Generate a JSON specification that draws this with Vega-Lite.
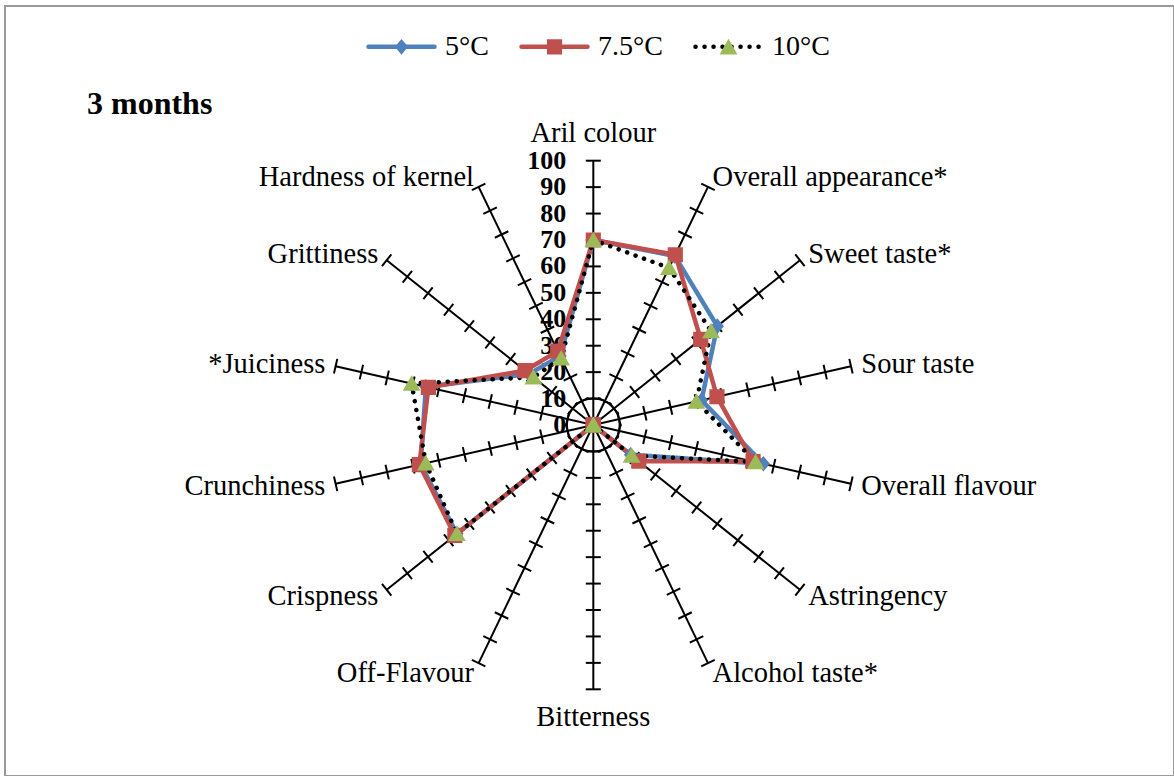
{
  "$schema": "https://vega.github.io/schema/vega-lite/v6.json",
  "width": 1169,
  "height": 770,
  "autosize": "none",
  "padding": {"left": 5, "top": 6, "right": 0, "bottom": 0},
  "background": "white",
  "config": {
    "view": {"stroke": "#999999", "strokeWidth": 2},
    "font": "Liberation Serif"
  },
  "title": {
    "text": "3 months",
    "anchor": "start",
    "frame": "group",
    "orient": "top",
    "offset": 0,
    "dx": 82,
    "dy": 140,
    "baseline": "alphabetic",
    "font": "Liberation Serif",
    "fontSize": 32,
    "fontWeight": "bold",
    "color": "black"
  },
  "datasets": {
    "scores": [
      {"series": "5°C", "idx": 0, "attribute": "Aril colour", "value": 70},
      {"series": "5°C", "idx": 1, "attribute": "Overall appearance*", "value": 71},
      {"series": "5°C", "idx": 2, "attribute": "Sweet taste*", "value": 60},
      {"series": "5°C", "idx": 3, "attribute": "Sour taste", "value": 42},
      {"series": "5°C", "idx": 4, "attribute": "Overall flavour", "value": 66},
      {"series": "5°C", "idx": 5, "attribute": "Astringency", "value": 18},
      {"series": "5°C", "idx": 6, "attribute": "Alcohol taste*", "value": 0},
      {"series": "5°C", "idx": 7, "attribute": "Bitterness", "value": 0},
      {"series": "5°C", "idx": 8, "attribute": "Off-Flavour", "value": 0},
      {"series": "5°C", "idx": 9, "attribute": "Crispness", "value": 66},
      {"series": "5°C", "idx": 10, "attribute": "Crunchiness", "value": 67},
      {"series": "5°C", "idx": 11, "attribute": "*Juiciness", "value": 65},
      {"series": "5°C", "idx": 12, "attribute": "Grittiness", "value": 31},
      {"series": "5°C", "idx": 13, "attribute": "Hardness of kernel", "value": 29},
      {"series": "7.5°C", "idx": 0, "attribute": "Aril colour", "value": 70},
      {"series": "7.5°C", "idx": 1, "attribute": "Overall appearance*", "value": 71.5},
      {"series": "7.5°C", "idx": 2, "attribute": "Sweet taste*", "value": 52},
      {"series": "7.5°C", "idx": 3, "attribute": "Sour taste", "value": 48},
      {"series": "7.5°C", "idx": 4, "attribute": "Overall flavour", "value": 62},
      {"series": "7.5°C", "idx": 5, "attribute": "Astringency", "value": 22},
      {"series": "7.5°C", "idx": 6, "attribute": "Alcohol taste*", "value": 0},
      {"series": "7.5°C", "idx": 7, "attribute": "Bitterness", "value": 0},
      {"series": "7.5°C", "idx": 8, "attribute": "Off-Flavour", "value": 0},
      {"series": "7.5°C", "idx": 9, "attribute": "Crispness", "value": 67},
      {"series": "7.5°C", "idx": 10, "attribute": "Crunchiness", "value": 67.5},
      {"series": "7.5°C", "idx": 11, "attribute": "*Juiciness", "value": 64},
      {"series": "7.5°C", "idx": 12, "attribute": "Grittiness", "value": 33},
      {"series": "7.5°C", "idx": 13, "attribute": "Hardness of kernel", "value": 31},
      {"series": "10°C", "idx": 0, "attribute": "Aril colour", "value": 70},
      {"series": "10°C", "idx": 1, "attribute": "Overall appearance*", "value": 66},
      {"series": "10°C", "idx": 2, "attribute": "Sweet taste*", "value": 57},
      {"series": "10°C", "idx": 3, "attribute": "Sour taste", "value": 40},
      {"series": "10°C", "idx": 4, "attribute": "Overall flavour", "value": 63},
      {"series": "10°C", "idx": 5, "attribute": "Astringency", "value": 18.5},
      {"series": "10°C", "idx": 6, "attribute": "Alcohol taste*", "value": 0},
      {"series": "10°C", "idx": 7, "attribute": "Bitterness", "value": 0},
      {"series": "10°C", "idx": 8, "attribute": "Off-Flavour", "value": 0},
      {"series": "10°C", "idx": 9, "attribute": "Crispness", "value": 66},
      {"series": "10°C", "idx": 10, "attribute": "Crunchiness", "value": 65},
      {"series": "10°C", "idx": 11, "attribute": "*Juiciness", "value": 70.5},
      {"series": "10°C", "idx": 12, "attribute": "Grittiness", "value": 29},
      {"series": "10°C", "idx": 13, "attribute": "Hardness of kernel", "value": 28}
    ],
    "attributes": [
      {"idx": 0, "name": "Aril colour"},
      {"idx": 1, "name": "Overall appearance*"},
      {"idx": 2, "name": "Sweet taste*"},
      {"idx": 3, "name": "Sour taste"},
      {"idx": 4, "name": "Overall flavour"},
      {"idx": 5, "name": "Astringency"},
      {"idx": 6, "name": "Alcohol taste*"},
      {"idx": 7, "name": "Bitterness"},
      {"idx": 8, "name": "Off-Flavour"},
      {"idx": 9, "name": "Crispness"},
      {"idx": 10, "name": "Crunchiness"},
      {"idx": 11, "name": "*Juiciness"},
      {"idx": 12, "name": "Grittiness"},
      {"idx": 13, "name": "Hardness of kernel"}
    ],
    "levels": [
      {"level": 0}, {"level": 10}, {"level": 20}, {"level": 30}, {"level": 40},
      {"level": 50}, {"level": 60}, {"level": 70}, {"level": 80}, {"level": 90},
      {"level": 100}
    ]
  },
  "encoding": {
    "x": {"field": "px", "type": "quantitative", "scale": {"domain": [-222.59, 219.71], "nice": false, "zero": false}, "axis": null},
    "y": {"field": "py", "type": "quantitative", "scale": {"domain": [-132.8, 158.53], "nice": false, "zero": false}, "axis": null}
  },
  "layer": [
    {
      "data": {"name": "levels"},
      "transform": [
        {"filter": "datum.level == 0"},
        {"calculate": "0", "as": "px"},
        {"calculate": "0", "as": "py"}
      ],
      "mark": {"type": "point", "shape": "circle", "size": 2788, "filled": false, "stroke": "black", "strokeWidth": 2, "opacity": 1}
    },
    {
      "data": {"name": "attributes"},
      "transform": [
        {"calculate": "datum.idx * 2 * PI / 14", "as": "th"},
        {"calculate": "0", "as": "px"},
        {"calculate": "0", "as": "py"},
        {"calculate": "100 * sin(datum.th)", "as": "ex"},
        {"calculate": "100 * cos(datum.th)", "as": "ey"}
      ],
      "mark": {"type": "rule", "color": "black", "strokeWidth": 2},
      "encoding": {
        "x2": {"field": "ex"},
        "y2": {"field": "ey"}
      }
    },
    {
      "data": {"name": "attributes"},
      "transform": [
        {"calculate": "datum.idx * 2 * PI / 14", "as": "th"},
        {"calculate": "[10,20,30,40,50,60,70,80,90,100]", "as": "lv"},
        {"flatten": ["lv"]},
        {"calculate": "datum.lv * sin(datum.th)", "as": "px"},
        {"calculate": "datum.lv * cos(datum.th)", "as": "py"},
        {"calculate": "datum.th * 180 / PI", "as": "deg"}
      ],
      "mark": {"type": "point", "shape": "stroke", "size": 225, "filled": false, "color": "black", "strokeWidth": 2, "opacity": 1},
      "encoding": {
        "angle": {"field": "deg", "type": "quantitative", "scale": null}
      }
    },
    {
      "data": {"name": "levels"},
      "transform": [
        {"calculate": "0", "as": "px"},
        {"calculate": "datum.level", "as": "py"}
      ],
      "mark": {"type": "text", "align": "right", "baseline": "middle", "dx": -27, "font": "Liberation Serif", "fontSize": 26, "fontWeight": "bold", "color": "black"},
      "encoding": {
        "text": {"field": "level", "type": "quantitative"}
      }
    },
    {
      "data": {"name": "attributes"},
      "transform": [
        {"filter": "datum.idx >= 1 && datum.idx <= 6"},
        {"calculate": "datum.idx * 2 * PI / 14", "as": "th"},
        {"calculate": "104 * sin(datum.th)", "as": "px"},
        {"calculate": "104 * cos(datum.th)", "as": "py"}
      ],
      "mark": {"type": "text", "align": "left", "baseline": "middle", "font": "Liberation Serif", "fontSize": 28.5, "color": "black"},
      "encoding": {"text": {"field": "name", "type": "nominal"}}
    },
    {
      "data": {"name": "attributes"},
      "transform": [
        {"filter": "datum.idx >= 8"},
        {"calculate": "datum.idx * 2 * PI / 14", "as": "th"},
        {"calculate": "104 * sin(datum.th)", "as": "px"},
        {"calculate": "104 * cos(datum.th)", "as": "py"}
      ],
      "mark": {"type": "text", "align": "right", "baseline": "middle", "font": "Liberation Serif", "fontSize": 28.5, "color": "black"},
      "encoding": {"text": {"field": "name", "type": "nominal"}}
    },
    {
      "data": {"name": "attributes"},
      "transform": [
        {"filter": "datum.idx == 0"},
        {"calculate": "0", "as": "px"},
        {"calculate": "100", "as": "py"}
      ],
      "mark": {"type": "text", "align": "center", "baseline": "middle", "dy": -28, "font": "Liberation Serif", "fontSize": 28.5, "color": "black"},
      "encoding": {"text": {"field": "name", "type": "nominal"}}
    },
    {
      "data": {"name": "attributes"},
      "transform": [
        {"filter": "datum.idx == 7"},
        {"calculate": "0", "as": "px"},
        {"calculate": "-100", "as": "py"}
      ],
      "mark": {"type": "text", "align": "center", "baseline": "middle", "dy": 28, "font": "Liberation Serif", "fontSize": 28.5, "color": "black"},
      "encoding": {"text": {"field": "name", "type": "nominal"}}
    },
    {
      "data": {"name": "scores"},
      "transform": [
        {"calculate": "datum.idx * 2 * PI / 14", "as": "th"},
        {"calculate": "datum.value * sin(datum.th)", "as": "px"},
        {"calculate": "datum.value * cos(datum.th)", "as": "py"}
      ],
      "mark": {"type": "line", "interpolate": "linear-closed", "strokeWidth": 4.5, "strokeCap": "round", "strokeJoin": "round"},
      "encoding": {
        "color": {
          "field": "series", "type": "nominal",
          "scale": {"domain": ["5°C", "7.5°C", "10°C"], "range": ["#4F81BD", "#C0504D", "#000000"]},
          "legend": {
            "orient": "none", "legendX": 361, "legendY": 5, "direction": "horizontal", "title": null,
            "symbolType": "M-1,0H1", "symbolSize": 4356, "symbolStrokeWidth": 4.5,
            "labelFont": "Liberation Serif", "labelFontSize": 28, "labelColor": "black",
            "labelOffset": 8, "columnPadding": 23, "padding": 0, "zindex": 0,
            "encode": {"symbols": {"update": {"strokeCap": {"value": "round"}}}}
          }
        },
        "strokeDash": {
          "field": "series", "type": "nominal",
          "scale": {"domain": ["5°C", "7.5°C", "10°C"], "range": [[1, 0], [1, 0], [0.1, 8.9]]},
          "legend": {
            "orient": "none", "legendX": 361, "legendY": 5, "direction": "horizontal", "title": null,
            "symbolType": "M-1,0H1", "symbolSize": 4356, "symbolStrokeWidth": 4.5,
            "labelFont": "Liberation Serif", "labelFontSize": 28, "labelColor": "black",
            "labelOffset": 8, "columnPadding": 23, "padding": 0, "zindex": 0,
            "encode": {"symbols": {"update": {"strokeCap": {"value": "round"}}}}
          }
        },
        "order": {"field": "idx", "type": "quantitative"}
      }
    },
    {
      "data": {"name": "scores"},
      "transform": [
        {"calculate": "datum.idx * 2 * PI / 14", "as": "th"},
        {"calculate": "datum.value * sin(datum.th)", "as": "px"},
        {"calculate": "datum.value * cos(datum.th)", "as": "py"},
        {"calculate": "indexof(['5°C', '7.5°C', '10°C'], datum.series)", "as": "sidx"}
      ],
      "mark": {"type": "point", "filled": true, "size": 4356, "opacity": 1, "stroke": "transparent"},
      "encoding": {
        "fill": {
          "field": "series", "type": "nominal", "sort": {"field": "sidx", "op": "min", "order": "ascending"},
          "scale": {"range": ["#4F81BD", "#C0504D", "#9BBB59"]},
          "legend": {
            "orient": "none", "legendX": 361, "legendY": 5, "direction": "horizontal", "title": null,
            "symbolSize": 4356, "symbolStrokeWidth": 4.5, "symbolStrokeColor": "transparent",
            "labelFont": "Liberation Serif", "labelFontSize": 28, "labelColor": "black", "labelOpacity": 0,
            "labelOffset": 8, "columnPadding": 23, "padding": 0, "zindex": 1
          }
        },
        "shape": {
          "field": "series", "type": "nominal", "sort": {"field": "sidx", "op": "min", "order": "ascending"},
          "scale": {"range": [
            "M-1,0H1M-0.2,0L0,-0.235L0.2,0L0,0.235Z",
            "M-1,0H1M-0.23,-0.23H0.23V0.23H-0.23Z",
            "M-1,0H1M0,-0.25L0.27,0.22H-0.27Z"
          ]},
          "legend": {
            "orient": "none", "legendX": 361, "legendY": 5, "direction": "horizontal", "title": null,
            "symbolSize": 4356, "symbolStrokeWidth": 4.5, "symbolStrokeColor": "transparent",
            "labelFont": "Liberation Serif", "labelFontSize": 28, "labelColor": "black", "labelOpacity": 0,
            "labelOffset": 8, "columnPadding": 23, "padding": 0, "zindex": 1
          }
        }
      }
    }
  ]
}
